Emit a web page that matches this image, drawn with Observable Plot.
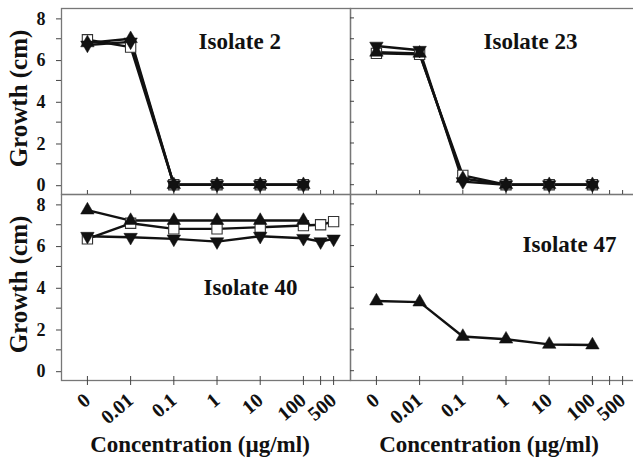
<!DOCTYPE html>
<html><head><meta charset="utf-8">
<script src="https://cdn.jsdelivr.net/npm/d3@7"></script>
<script src="https://cdn.jsdelivr.net/npm/@observablehq/plot@0.6"></script>
<style>
html,body{margin:0;padding:0;background:#fff;overflow:hidden}
#chart{width:633px;height:464px;overflow:hidden}
</style></head><body><div id="chart"></div>
<script>
// Concentration categories (µg/ml) and their tick labels
const concentrations = [0, 0.01, 0.1, 1, 10, 100, 250, 500];
const tickLabels = ["0", "0.01", "0.1", "1", "10", "100", "", "500"];
const yTicks = [0, 2, 4, 6, 8];
const yMinorTicks = [1, 3, 5, 7];
const isolates = ["Isolate 2", "Isolate 23", "Isolate 40", "Isolate 47"];

// Growth (cm) per series, aligned with concentrations
const iso2Square = [6.95, 6.6, 0, 0, 0, 0];
const iso2Up     = [6.8, 7.0, 0, 0, 0, 0];
const iso2Down   = [6.7, 6.85, 0, 0, 0, 0];
const iso23Square = [6.3, 6.25, 0.45, 0, 0, 0];
const iso23Up     = [6.35, 6.3, 0.3, 0, 0, 0];
const iso23Down   = [6.65, 6.45, 0.15, 0, 0, 0];
const iso40Square = [6.32, 7.07, 6.8, 6.8, 6.88, 6.96, 7.0, 7.15];
const iso40Up     = [7.7, 7.2, 7.2, 7.2, 7.2, 7.2];
const iso40Down   = [6.45, 6.4, 6.32, 6.19, 6.45, 6.35, 6.19, 6.32];
const iso47Up     = [3.34, 3.29, 1.64, 1.51, 1.26, 1.23];

const panels = [
  {isolate: isolates[0], series: {square: iso2Square, up: iso2Up, down: iso2Down}},
  {isolate: isolates[1], series: {square: iso23Square, up: iso23Up, down: iso23Down}},
  {isolate: isolates[2], series: {square: iso40Square, up: iso40Up, down: iso40Down}},
  {isolate: isolates[3], series: {up: iso47Up}}
];

const pos = c => c === 0 ? 0 : Math.log10(c) + 3;
const tickPos = concentrations.map(pos);
const labelByPos = new Map(tickPos.map((p, i) => [p, tickLabels[i]]));

const records = [];
panels.forEach((p, i) => {
  for (const [shape, vals] of Object.entries(p.series)) {
    vals.forEach((v, j) => records.push({
      isolate: p.isolate, shape, col: i % 2, row: Math.floor(i / 2),
      x: pos(concentrations[j]), growth: v
    }));
  }
});

const FONT = '"Liberation Serif","Times New Roman",serif';
const AX = "#444";
const labelOffsets = [[137, 33], [133, 33.5], [142, 93], [172, 50]];

const marks = [
  Plot.frame({stroke: "#777", strokeWidth: 1.3}),
  Plot.axisY({ticks: yTicks, anchor: "left", facetAnchor: "left", tickSize: 5, tickPadding: 11,
    fontSize: 18, dy: 1, label: null, stroke: AX}),
  Plot.axisY({ticks: yMinorTicks, anchor: "left", facetAnchor: "left", tickSize: 5,
    tickFormat: () => "", label: null, stroke: AX}),
  Plot.axisY({ticks: yTicks.concat(yMinorTicks), anchor: "left", facetAnchor: "right", tickSize: -4,
    tickFormat: () => "", label: null, stroke: AX}),
  Plot.axisX({ticks: tickPos, anchor: "bottom", facetAnchor: null, tickSize: -4,
    tickFormat: () => "", label: null, stroke: AX}),
  Plot.axisX({ticks: tickPos, anchor: "bottom", facetAnchor: "bottom", tickSize: 5, tickPadding: 12,
    tickRotate: -40, tickFormat: p => labelByPos.get(p), fontSize: 20, label: null, stroke: AX}),
  Plot.line(records, {x: "x", y: "growth", z: d => d.isolate + d.shape, fx: "col", fy: "row",
    stroke: "#111", strokeWidth: 2.4}),
  Plot.dot(records.filter(d => d.shape === "square"), {x: "x", y: "growth", fx: "col", fy: "row",
    symbol: "square", r: 5.8, fill: "white", stroke: "#333", strokeWidth: 1.1}),
  Plot.dot(records.filter(d => d.shape === "up"), {x: "x", y: "growth", fx: "col", fy: "row",
    symbol: "triangle", r: 5, fill: "#111", stroke: "#111", strokeWidth: 0.5}),
  Plot.dot(records.filter(d => d.shape === "down"), {x: "x", y: "growth", fx: "col", fy: "row",
    symbol: "triangle", rotate: 180, r: 5, fill: "#111", stroke: "#111", strokeWidth: 0.5}),
  ...panels.map((p, i) => Plot.text([p], {fx: () => i % 2, fy: () => Math.floor(i / 2),
    text: "isolate", frameAnchor: "top-left", textAnchor: "start", lineAnchor: "middle",
    dx: labelOffsets[i][0], dy: labelOffsets[i][1], fontSize: 23, fill: "#111"})),
  Plot.text([0, 1], {fx: () => 0, fy: d => d, text: () => "Growth (cm)", frameAnchor: "left",
    textAnchor: "middle", lineAnchor: "middle",
    rotate: -90, dx: -43, dy: -3, fontSize: 25, fill: "#111"}),
  Plot.text([0, 1], {fx: d => d, fy: () => 1, text: () => "Concentration (µg/ml)", frameAnchor: "bottom",
    textAnchor: "middle", lineAnchor: "middle", dx: -6, dy: 64, fontSize: 23, fill: "#111"})
];

const chart = Plot.plot({
  width: 633, height: 464,
  marginLeft: 61, marginRight: -6, marginTop: 8, marginBottom: 84,
  style: {fontFamily: FONT, fontWeight: "bold", background: "white", color: "#111"},
  fx: {domain: [0, 1], padding: 0, axis: null},
  fy: {domain: [0, 1], padding: 0, axis: null},
  x: {domain: [-0.6, 6.09]},
  y: {domain: [-0.47, 8.45]},
  marks
});
document.getElementById("chart").appendChild(chart);
</script></body></html>
